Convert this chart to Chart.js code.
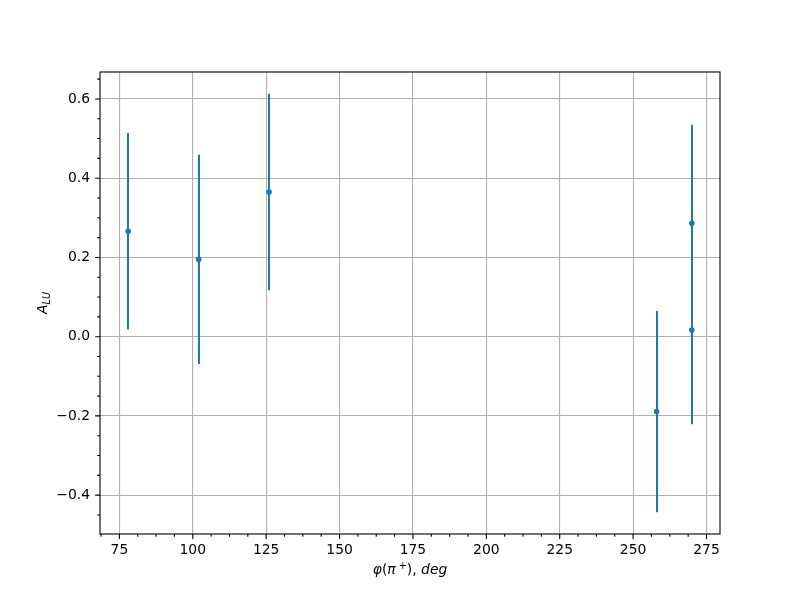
<!DOCTYPE html>
<html>
<head>
<meta charset="utf-8">
<script src="https://cdn.jsdelivr.net/npm/chart.js@4"></script>
<style>html,body{margin:0;padding:0;background:#fff}</style>
</head>
<body>
<canvas id="errChart" width="800" height="600"></canvas>
<script>
// phi(pi+) in degrees, asymmetry A_LU and its (symmetric) error
var phi = [78, 102, 126, 258, 270, 270];
var alu = [0.266, 0.195, 0.365, -0.189, 0.286, 0.017];
var aluErr = [0.248, 0.264, 0.248, 0.254, 0.249, 0.238];

var xMajor = [75, 100, 125, 150, 175, 200, 225, 250, 275];
var yMajor = [-0.4, -0.2, 0.0, 0.2, 0.4, 0.6];

var blue = '#1f77b4';
var fontSize = 13.9;

function isMajor(v, list) {
  return list.some(function (m) { return Math.abs(m - v) < 1e-6; });
}

function fmtY(v) {
  var s = v.toFixed(1);
  if (v < -1e-9) s = '\u2212' + Math.abs(v).toFixed(1);
  return s;
}

// draw a row of text pieces (mixed italic / upright / superscript)
function drawPieces(ctx, pieces, cx, cy) {
  var total = 0;
  pieces.forEach(function (p) {
    ctx.font = p.font;
    p.w = ctx.measureText(p.t).width;
    total += p.w;
  });
  var x = cx - total / 2;
  ctx.textBaseline = 'alphabetic';
  ctx.textAlign = 'left';
  pieces.forEach(function (p) {
    ctx.font = p.font;
    ctx.fillText(p.t, x, cy + (p.dy || 0));
    x += p.w;
  });
}

var errorBars = {
  id: 'errorBars',
  beforeDatasetsDraw: function (chart) {
    var ctx = chart.ctx, xs = chart.scales.x, ys = chart.scales.y;
    ctx.save();
    ctx.strokeStyle = blue;
    ctx.lineWidth = 2;
    for (var i = 0; i < phi.length; i++) {
      var px = Math.round(xs.getPixelForValue(phi[i]));
      ctx.beginPath();
      ctx.moveTo(px, ys.getPixelForValue(alu[i] - aluErr[i]));
      ctx.lineTo(px, ys.getPixelForValue(alu[i] + aluErr[i]));
      ctx.stroke();
    }
    ctx.restore();
  }
};

var frameAndTicks = {
  id: 'frameAndTicks',
  afterDatasetsDraw: function (chart) {
    var ctx = chart.ctx, a = chart.chartArea;
    var xs = chart.scales.x, ys = chart.scales.y;
    ctx.save();
    ctx.strokeStyle = '#000';
    ctx.lineWidth = 1.1;
    ctx.strokeRect(a.left, a.top, a.right - a.left, a.bottom - a.top);

    ctx.beginPath();
    xs.ticks.forEach(function (t) {
      var px = xs.getPixelForValue(t.value);
      var len = isMajor(t.value, xMajor) ? 4.9 : 2.8;
      ctx.moveTo(px, a.bottom);
      ctx.lineTo(px, a.bottom + len);
    });
    ys.ticks.forEach(function (t) {
      var py = ys.getPixelForValue(t.value);
      var len = isMajor(t.value, yMajor) ? 4.9 : 2.8;
      ctx.moveTo(a.left, py);
      ctx.lineTo(a.left - len, py);
    });
    ctx.stroke();

    // axis titles
    ctx.fillStyle = '#000';
    var it = 'italic ' + fontSize + 'px "DejaVu Sans"';
    var up = fontSize + 'px "DejaVu Sans"';
    var sm = (fontSize * 0.7).toFixed(1) + 'px "DejaVu Sans"';
    drawPieces(ctx, [
      { t: '\u03c6', font: it },
      { t: '(', font: up },
      { t: '\u03c0', font: it },
      { t: ' +', font: sm, dy: -5 },
      { t: ')', font: up },
      { t: ', ', font: up },
      { t: 'deg', font: it }
    ], (a.left + a.right) / 2, 574);

    ctx.translate(42, (a.top + a.bottom) / 2);
    ctx.rotate(-Math.PI / 2);
    var smi = 'italic ' + (fontSize * 0.7).toFixed(1) + 'px "DejaVu Sans"';
    drawPieces(ctx, [
      { t: 'A', font: it },
      { t: 'LU', font: smi, dy: 3 }
    ], 0, 5);
    ctx.restore();
  }
};

function gridColor(list) {
  return function (c) {
    return c.tick && isMajor(c.tick.value, list) ? '#b0b0b0' : 'rgba(0,0,0,0)';
  };
}

new Chart(document.getElementById('errChart'), {
  type: 'scatter',
  data: {
    datasets: [{
      data: phi.map(function (v, i) { return { x: v, y: alu[i] }; }),
      pointRadius: 2.8,
      pointBackgroundColor: blue,
      pointBorderWidth: 0,
      showLine: false
    }]
  },
  options: {
    responsive: false,
    animation: false,
    devicePixelRatio: 1,
    layout: { padding: { top: 72, right: 80, left: 0, bottom: 0 } },
    plugins: { legend: { display: false }, tooltip: { enabled: false } },
    scales: {
      x: {
        type: 'linear',
        min: 68.4,
        max: 279.6,
        afterFit: function (s) { s.height = 66; },
        border: { display: false },
        grid: { color: gridColor(xMajor), lineWidth: 1.1, drawTicks: false },
        ticks: {
          stepSize: 6.25,
          includeBounds: false,
          autoSkip: false,
          maxRotation: 0,
          padding: 8,
          color: '#000',
          font: { family: 'DejaVu Sans', size: fontSize },
          callback: function (v) { return isMajor(v, xMajor) ? String(Math.round(v)) : ''; }
        }
      },
      y: {
        min: -0.498,
        max: 0.668,
        afterFit: function (s) { s.width = 100; },
        border: { display: false },
        grid: { color: gridColor(yMajor), lineWidth: 1.1, drawTicks: false },
        ticks: {
          stepSize: 0.05,
          includeBounds: false,
          autoSkip: false,
          padding: 10,
          color: '#000',
          font: { family: 'DejaVu Sans', size: fontSize },
          callback: function (v) { return isMajor(v, yMajor) ? fmtY(v) : ''; }
        }
      }
    }
  },
  plugins: [errorBars, frameAndTicks]
});
</script>
</body>
</html>
